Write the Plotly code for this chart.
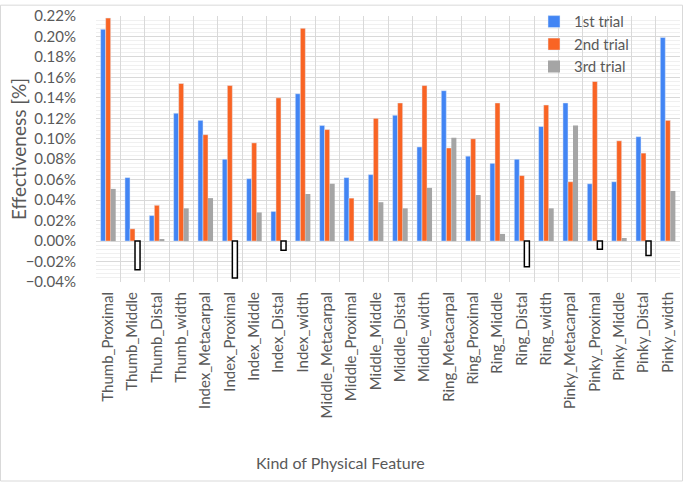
import plotly.graph_objects as go

categories = ["Thumb_Proximal", "Thumb_Middle", "Thumb_Distal", "Thumb_width",
              "Index_Metacarpal", "Index_Proximal", "Index_Middle", "Index_Distal", "Index_width",
              "Middle_Metacarpal", "Middle_Proximal", "Middle_Middle", "Middle_Distal", "Middle_width",
              "Ring_Metacarpal", "Ring_Proximal", "Ring_Middle", "Ring_Distal", "Ring_width",
              "Pinky_Metacarpal", "Pinky_Proximal", "Pinky_Middle", "Pinky_Distal", "Pinky_width"]

trial1 = [0.207, 0.062, 0.025, 0.125, 0.118, 0.080, 0.061, 0.029, 0.144, 0.113, 0.062, 0.065,
          0.123, 0.092, 0.147, 0.083, 0.076, 0.080, 0.112, 0.135, 0.056, 0.058, 0.102, 0.199]
trial2 = [0.218, 0.012, 0.035, 0.154, 0.104, 0.152, 0.096, 0.140, 0.208, 0.109, 0.042, 0.120,
          0.135, 0.152, 0.091, 0.100, 0.135, 0.064, 0.133, 0.058, 0.156, 0.098, 0.086, 0.118]
trial3 = [0.051, -0.028, 0.002, 0.032, 0.042, -0.036, 0.028, -0.009, 0.046, 0.056, 0.0, 0.038,
          0.032, 0.052, 0.101, 0.045, 0.007, -0.025, 0.032, 0.113, -0.008, 0.003, -0.014, 0.049]

txt = "#595959"
grid = "#D9D9D9"

fig = go.Figure()
fig.add_trace(go.Bar(x=categories, y=trial1, name="1st trial", marker_color="#4285F4"))
fig.add_trace(go.Bar(x=categories, y=trial2, name="2nd trial", marker_color="#F96424"))
# negative values of the 3rd trial are shown as white boxes with a black outline
fig.add_trace(go.Bar(
    x=categories, y=trial3, name="3rd trial",
    marker=dict(color=["#A5A5A5" if v >= 0 else "white" for v in trial3],
                line=dict(color="black", width=[0 if v >= 0 else 1.5 for v in trial3]))
))

fig.update_layout(
    width=685, height=485,
    margin=dict(l=96, r=5, t=12, b=203),
    paper_bgcolor="white", plot_bgcolor="white",
    font=dict(family="Lato, Carlito, sans-serif", color=txt, size=15),
    barmode="group", bargap=0.38, bargroupgap=0,
    legend=dict(x=0.75, y=1.04, xanchor="left", yanchor="top", bgcolor="rgba(0,0,0,0)",
                font=dict(size=15, color=txt)),
    xaxis=dict(
        tickson="boundaries", showgrid=True, gridcolor=grid, gridwidth=1,
        tickangle=-90, ticks="", ticklabelstandoff=6,
        tickfont=dict(size=15, color=txt),
        showline=False,
    ),
    yaxis=dict(
        range=[-0.04, 0.22], dtick=0.02, tickformat=".2f", ticksuffix="%",
        showgrid=True, gridcolor=grid, gridwidth=1,
        zeroline=True, zerolinecolor=grid, zerolinewidth=1,
        minor=dict(dtick=0.004, showgrid=True, gridcolor="#F0F0F0", gridwidth=1),
        ticks="", ticklabelstandoff=19,
        tickfont=dict(size=15, color=txt),
    ),
)

# axis titles placed like the original (x title centred on the whole chart)
fig.add_annotation(text="Kind of Physical Feature", xref="paper", yref="paper",
                   x=(340 - 96) / 584, y=(282 - 465) / 270, xanchor="center", yanchor="middle",
                   showarrow=False, font=dict(size=16, color=txt))
fig.add_annotation(text="Effectiveness [%]", xref="paper", yref="paper", textangle=-90,
                   x=(18 - 96) / 584, y=0.5, xanchor="center", yanchor="middle",
                   showarrow=False, font=dict(size=19, color=txt))

# outer chart border
fig.add_shape(type="rect", xref="paper", yref="paper",
              x0=(0.5 - 96) / 584, x1=(682.5 - 96) / 584,
              y0=(282 - 484) / 270, y1=(282 - 1) / 270,
              line=dict(color=grid, width=1), layer="below")

fig.write_html("out.html", config={"displayModeBar": False},
               post_script="document.body.style.margin='0';")
